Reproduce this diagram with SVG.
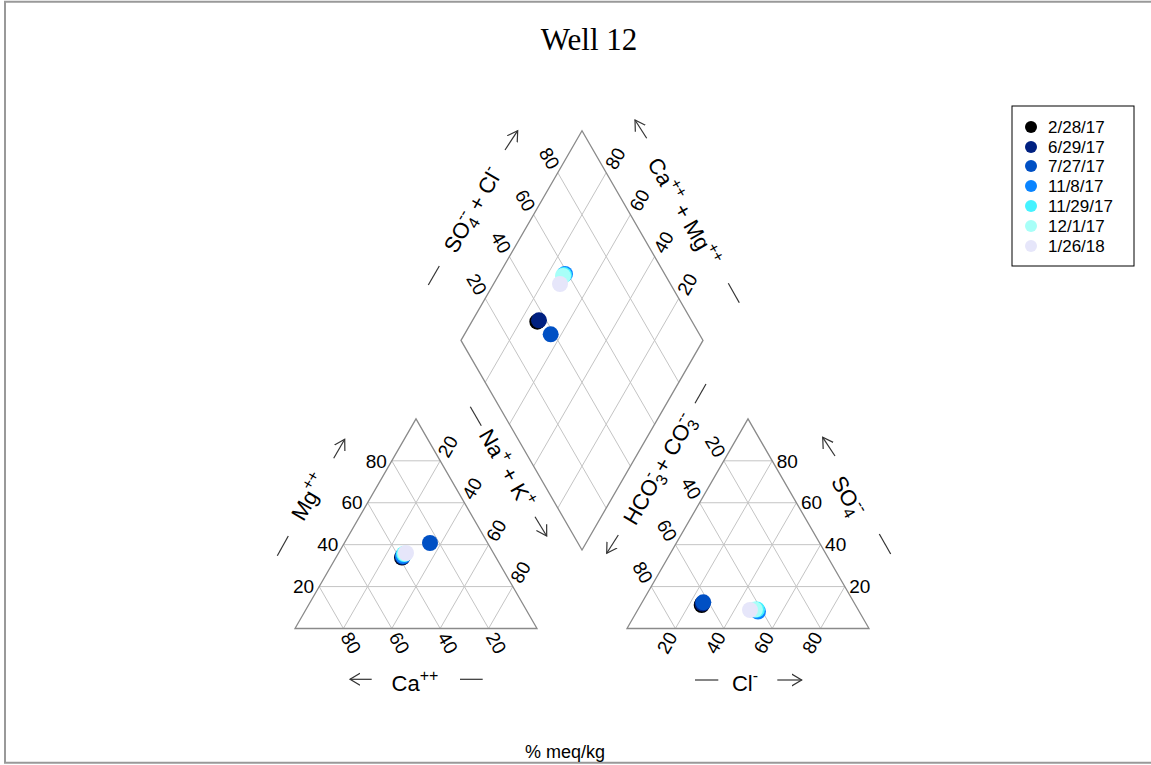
<svg xmlns="http://www.w3.org/2000/svg" width="1151" height="765" viewBox="0 0 1151 765">
<style>
text{font-family:"Liberation Sans",Arial,sans-serif;fill:#000;white-space:pre}
.tk{font-size:19px}
.ttl{font-size:22px}
.s{font-size:16px}
.out{fill:none;stroke:#8a8a8a;stroke-width:1.3}
.grid{fill:none;stroke:#c4c4c4;stroke-width:1}
.ax{fill:none;stroke:#333;stroke-width:1.2}
.c1{fill:#000000}.c2{fill:#002080}.c3{fill:#0050c4}.c4{fill:#0a84ff}.c5{fill:#45f2ff}.c6{fill:#a8fff8}.c7{fill:#e6e6fa}
</style>
<defs>
<marker id="ah" markerWidth="12" markerHeight="14" refX="10" refY="7" orient="auto" markerUnits="userSpaceOnUse"><path d="M0,1 L10,7 L0,13" fill="none" stroke="#333" stroke-width="1.2"/></marker>
</defs>
<rect width="1151" height="765" fill="#fff"/>
<path id="frame" d="M1151,1.8 H5 V762.7 H1151" fill="none" stroke="#999" stroke-width="2"/>
<text id="title" x="589" y="50" text-anchor="middle" style="font-family:'Liberation Serif','Times New Roman',serif;font-size:31px">Well 12</text>

<g id="cation-triangle">
<path class="grid" d="M319.2,586.58H512.8 M343.4,544.66H488.6 M367.6,502.74H464.4 M391.8,460.82H440.2 M343.4,628.5L440.2,460.82 M391.8,628.5L464.4,502.74 M440.2,628.5L488.6,544.66 M488.6,628.5L512.8,586.58 M343.4,628.5L319.2,586.58 M391.8,628.5L343.4,544.66 M440.2,628.5L367.6,502.74 M488.6,628.5L391.8,460.82"/>
<polygon class="out" points="295,628.5 537,628.5 416,418.9"/>
<g class="tk" text-anchor="middle">
<text dy="0.35em" transform="translate(351,642.8) rotate(60)">80</text>
<text dy="0.35em" transform="translate(399.4,642.8) rotate(60)">60</text>
<text dy="0.35em" transform="translate(447.8,642.8) rotate(60)">40</text>
<text dy="0.35em" transform="translate(496.2,642.8) rotate(60)">20</text>
<text dy="0.35em" transform="translate(447.8,446.5) rotate(-60)">20</text>
<text dy="0.35em" transform="translate(472,488.4) rotate(-60)">40</text>
<text dy="0.35em" transform="translate(496.2,530.4) rotate(-60)">60</text>
<text dy="0.35em" transform="translate(520.4,572.3) rotate(-60)">80</text>
</g>
<g class="tk" text-anchor="end">
<text x="314.2" y="593.3">20</text>
<text x="338.4" y="551.4">40</text>
<text x="362.6" y="509.4">60</text>
<text x="386.8" y="467.5">80</text>
</g>
</g>

<g id="anion-triangle">
<path class="grid" d="M651.2,586.58H844.8 M675.4,544.66H820.6 M699.6,502.74H796.4 M723.8,460.82H772.2 M675.4,628.5L772.2,460.82 M723.8,628.5L796.4,502.74 M772.2,628.5L820.6,544.66 M820.6,628.5L844.8,586.58 M675.4,628.5L651.2,586.58 M723.8,628.5L675.4,544.66 M772.2,628.5L699.6,502.74 M820.6,628.5L723.8,460.82"/>
<polygon class="out" points="627,628.5 869,628.5 748,418.9"/>
<g class="tk" text-anchor="middle">
<text dy="0.35em" transform="translate(667,642.8) rotate(-60)">20</text>
<text dy="0.35em" transform="translate(715.4,642.8) rotate(-60)">40</text>
<text dy="0.35em" transform="translate(763.8,642.8) rotate(-60)">60</text>
<text dy="0.35em" transform="translate(812.2,642.8) rotate(-60)">80</text>
<text dy="0.35em" transform="translate(715.4,446.5) rotate(60)">20</text>
<text dy="0.35em" transform="translate(691.2,488.4) rotate(60)">40</text>
<text dy="0.35em" transform="translate(667,530.4) rotate(60)">60</text>
<text dy="0.35em" transform="translate(642.8,572.3) rotate(60)">80</text>
</g>
<g class="tk" text-anchor="start">
<text x="849.3" y="593.3">20</text>
<text x="825.1" y="551.4">40</text>
<text x="800.9" y="509.4">60</text>
<text x="776.7" y="467.5">80</text>
</g>
</g>

<g id="diamond">
<path class="grid" d="M485.2,382.32L606.2,172.72 M509.4,424.24L630.4,214.64 M533.6,466.16L654.6,256.56 M557.8,508.08L678.8,298.48 M485.2,298.48L606.2,508.08 M509.4,256.56L630.4,466.16 M533.6,214.64L654.6,424.24 M557.8,172.72L678.8,382.32"/>
<polygon class="out" points="461,340.4 582,130.8 703,340.4 582,550"/>
<g class="tk" text-anchor="middle">
<text dy="0.35em" transform="translate(476.8,284.2) rotate(60)">20</text>
<text dy="0.35em" transform="translate(501,242.3) rotate(60)">40</text>
<text dy="0.35em" transform="translate(525.2,200.3) rotate(60)">60</text>
<text dy="0.35em" transform="translate(549.4,158.4) rotate(60)">80</text>
<text dy="0.35em" transform="translate(615.2,158.4) rotate(-60)">80</text>
<text dy="0.35em" transform="translate(639.4,200.3) rotate(-60)">60</text>
<text dy="0.35em" transform="translate(663.6,242.3) rotate(-60)">40</text>
<text dy="0.35em" transform="translate(687.2,284.2) rotate(-60)">20</text>
</g>
</g>

<g id="axis-titles" class="ttl" text-anchor="middle">
<text transform="translate(309,497) rotate(-60)" y="8">Mg<tspan class="s" dy="-10">++</tspan></text>
<text x="415" y="691">Ca<tspan class="s" dy="-10">++</tspan></text>
<text transform="translate(506.7,468.3) rotate(60)" y="8">Na<tspan class="s" dy="-10">+</tspan><tspan dy="10"> + K</tspan><tspan class="s" dy="-10">+</tspan></text>
<text transform="translate(659.2,469.2) rotate(-60)" y="8">HCO<tspan class="s" dy="5">3</tspan><tspan class="s" dx="-8.9" dy="-15">-</tspan><tspan dy="10"> + CO</tspan><tspan class="s" dy="5">3</tspan><tspan class="s" dx="-8.9" dy="-15">--</tspan></text>
<text transform="translate(848,496) rotate(60)" y="8">SO<tspan class="s" dy="5">4</tspan><tspan class="s" dx="-8.9" dy="-15">--</tspan></text>
<text x="745" y="691">Cl<tspan class="s" dy="-10">-</tspan></text>
<text transform="translate(472.5,210) rotate(-60)" y="8">SO<tspan class="s" dy="5">4</tspan><tspan class="s" dx="-8.9" dy="-15">--</tspan><tspan dy="10"> + Cl</tspan><tspan class="s" dy="-10">-</tspan></text>
<text transform="translate(684,211.6) rotate(60)" y="8">Ca<tspan class="s" dy="-10">++</tspan><tspan dy="10"> + Mg</tspan><tspan class="s" dy="-10">++</tspan></text>
</g>

<g id="axis-arrows" class="ax">
<path d="M333.7,458.3L344.7,439.3" marker-end="url(#ah)"/>
<path d="M277.3,555.7L288.3,536"/>
<path d="M371.7,679.3L350,679.3" marker-end="url(#ah)"/>
<path d="M460,679.3L482.7,679.3"/>
<path d="M535,516.7L546.7,536" marker-end="url(#ah)"/>
<path d="M470.3,406.8L481.3,425.8"/>
<path d="M618.3,535L606.7,553.3" marker-end="url(#ah)"/>
<path d="M695,403.3L706,384"/>
<path d="M835,456L822.7,437.3" marker-end="url(#ah)"/>
<path d="M879.3,534L890.7,554"/>
<path d="M777.3,680L801.7,680" marker-end="url(#ah)"/>
<path d="M695,680L718.3,680"/>
<path d="M505,150L517.7,130.7" marker-end="url(#ah)"/>
<path d="M428.3,285L439.3,266"/>
<path d="M646.7,138.3L635,120" marker-end="url(#ah)"/>
<path d="M728.3,283.3L739.3,302.7"/>
</g>

<g id="points">
<circle class="c1" cx="402" cy="557.5" r="8"/><circle class="c1" cx="701.7" cy="605" r="8"/><circle class="c1" cx="537.3" cy="321.7" r="8"/>
<circle class="c2" cx="402.5" cy="557" r="8"/><circle class="c2" cx="702.5" cy="603.5" r="8"/><circle class="c2" cx="539" cy="320.3" r="8"/>
<circle class="c3" cx="430" cy="543" r="8"/><circle class="c3" cx="703.3" cy="602.3" r="8"/><circle class="c3" cx="550.7" cy="334.3" r="8"/>
<circle class="c4" cx="403" cy="556" r="8"/><circle class="c4" cx="758" cy="611.5" r="8"/><circle class="c4" cx="565" cy="274" r="8"/>
<circle class="c5" cx="404" cy="554" r="8"/><circle class="c5" cx="757" cy="609.5" r="8"/><circle class="c5" cx="564" cy="275" r="8"/>
<circle class="c6" cx="405" cy="553.5" r="8"/><circle class="c6" cx="755" cy="609.5" r="8"/><circle class="c6" cx="563" cy="276" r="8"/>
<circle class="c7" cx="406" cy="553" r="8"/><circle class="c7" cx="750" cy="610" r="8"/><circle class="c7" cx="560" cy="284" r="8"/>
</g>

<g id="legend">
<rect x="1012" y="106" width="122" height="160" fill="#fff" stroke="#000" stroke-width="1"/>
<circle class="c1" cx="1031" cy="127" r="6"/><text x="1048" y="133" style="font-size:17px">2/28/17</text>
<circle class="c2" cx="1031" cy="147" r="6"/><text x="1048" y="153" style="font-size:17px">6/29/17</text>
<circle class="c3" cx="1031" cy="166" r="6"/><text x="1048" y="172" style="font-size:17px">7/27/17</text>
<circle class="c4" cx="1031" cy="186" r="6"/><text x="1048" y="192" style="font-size:17px">11/8/17</text>
<circle class="c5" cx="1031" cy="206" r="6"/><text x="1048" y="212" style="font-size:17px">11/29/17</text>
<circle class="c6" cx="1031" cy="226" r="6"/><text x="1048" y="232" style="font-size:17px">12/1/17</text>
<circle class="c7" cx="1031" cy="246" r="6"/><text x="1048" y="252" style="font-size:17px">1/26/18</text>
</g>

<text id="units" x="525" y="758" style="font-size:18px">% meq/kg</text>
</svg>
